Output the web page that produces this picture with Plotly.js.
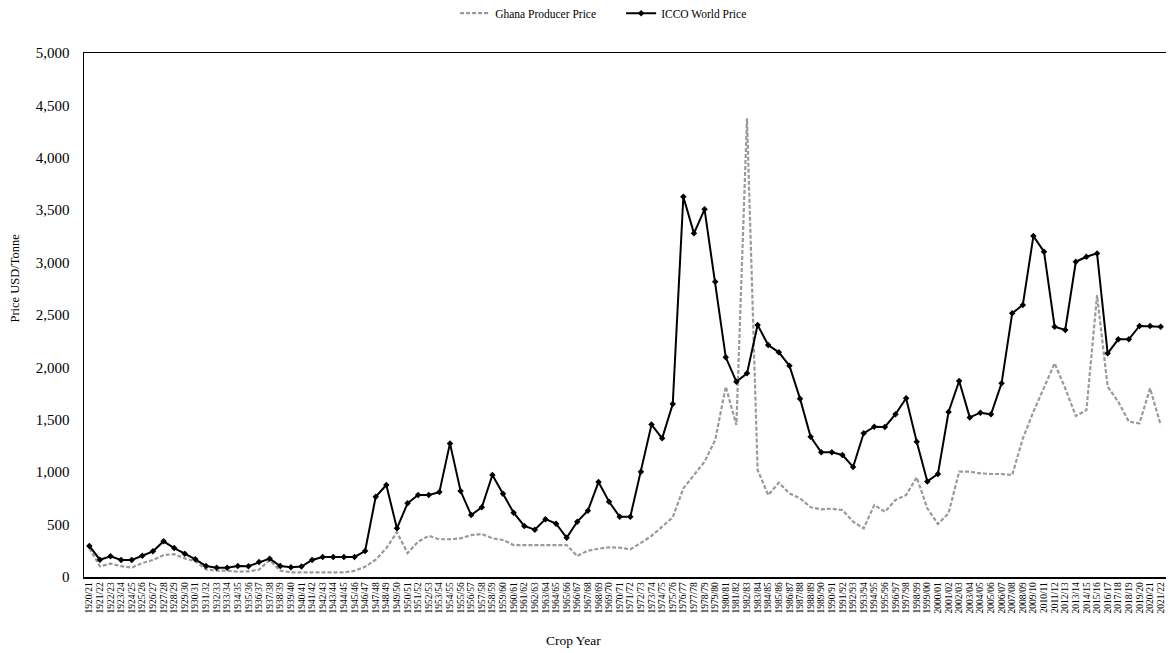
<!DOCTYPE html>
<html>
<head>
<meta charset="utf-8">
<script src="https://cdn.plot.ly/plotly-3.0.1.min.js"></script>
<style>
  html, body { margin: 0; padding: 0; background: #fff; }
  #chart { width: 1176px; height: 653px; }
</style>
</head>
<body>
<div id="chart"></div>
<script>
// Crop years on the category axis
const cropYears = [
  "1920/21","1921/22","1922/23","1923/24","1924/25","1925/26","1926/27","1927/28","1928/29","1929/30",
  "1930/31","1931/32","1932/33","1933/34","1934/35","1935/36","1936/37","1937/38","1938/39","1939/40",
  "1940/41","1941/42","1942/43","1943/44","1944/45","1945/46","1946/47","1947/48","1948/49","1949/50",
  "1950/51","1951/52","1952/53","1953/54","1954/55","1955/56","1956/57","1957/58","1958/59","1959/60",
  "1960/61","1961/62","1962/63","1963/64","1964/65","1965/66","1966/67","1967/68","1968/69","1969/70",
  "1970/71","1971/72","1972/73","1973/74","1974/75","1975/76","1976/77","1977/78","1978/79","1979/80",
  "1980/81","1981/82","1982/83","1983/84","1984/85","1985/86","1986/87","1987/88","1988/89","1989/90",
  "1990/91","1991/92","1992/93","1993/94","1994/95","1995/96","1996/97","1997/98","1998/99","1999/00",
  "2000/01","2001/02","2002/03","2003/04","2004/05","2005/06","2006/07","2007/08","2008/09","2009/10",
  "2010/11","2011/12","2012/13","2013/14","2014/15","2015/16","2016/17","2017/18","2018/19","2019/20",
  "2020/21","2021/22"
];

// Ghana producer price, USD per tonne
const ghanaProducerPrice = [
  275, 102, 127, 103, 90, 133, 162, 210, 218, 178,
  150, 73, 60, 60, 51, 54, 70, 160, 60, 45,
  45, 45, 45, 45, 45, 58, 98, 165, 275, 428,
  229, 337, 393, 360, 360, 369, 400, 410, 369, 353,
  305, 305, 305, 305, 305, 305, 200, 251, 270, 283,
  280, 264, 325, 392, 480, 569, 846, 973, 1100, 1307,
  1816, 1450, 4376, 1021, 782, 900, 798, 751, 665, 646,
  652, 639, 528, 464, 687, 623, 735, 782, 951, 655,
  506, 608, 1005, 1005, 989, 983, 983, 973, 1320, 1577,
  1816, 2039, 1800, 1536, 1593, 2690, 1816, 1672, 1482, 1466,
  1800, 1450
];

// ICCO world price, USD per tonne
const iccoWorldPrice = [
  296, 165, 198, 162, 162, 202, 245, 340, 276, 222,
  169, 105, 89, 89, 106, 103, 142, 175, 105, 94,
  100, 162, 191, 191, 191, 191, 248, 766, 878, 464,
  703, 782, 782, 810, 1275, 820, 591, 665, 973, 795,
  614, 487, 452, 552, 509, 374, 528, 632, 906, 718,
  575, 575, 1005, 1454, 1323, 1650, 3628, 3279, 3508, 2817,
  2096, 1863, 1943, 2404, 2213, 2144, 2016, 1702, 1338, 1190,
  1190, 1164, 1050, 1371, 1434, 1432, 1553, 1705, 1291, 912,
  983, 1574, 1870, 1523, 1568, 1552, 1848, 2516, 2595, 3253,
  3104, 2388, 2357, 3008, 3056, 3088, 2134, 2268, 2268, 2395,
  2395, 2389
];

const serif = '"Liberation Serif", "Times New Roman", serif';

const traces = [
  {
    type: 'scatter',
    mode: 'lines',
    name: 'Ghana Producer Price',
    x: cropYears,
    y: ghanaProducerPrice,
    line: { color: '#9a9a9a', width: 2.2, dash: '4px,2px' }
  },
  {
    type: 'scatter',
    mode: 'lines+markers',
    name: 'ICCO World Price',
    x: cropYears,
    y: iccoWorldPrice,
    line: { color: '#000000', width: 2 },
    marker: { symbol: 'diamond', size: 5, color: '#000000' }
  }
];

const layout = {
  width: 1176,
  height: 653,
  paper_bgcolor: '#ffffff',
  plot_bgcolor: '#ffffff',
  margin: { l: 84, r: 10, t: 53, b: 76, autoexpand: false },
  font: { family: serif, color: '#000000' },
  showlegend: true,
  legend: {
    orientation: 'h',
    x: 0.343,
    xanchor: 'left',
    y: 1.076,
    yanchor: 'middle',
    font: { family: serif, size: 11.5, color: '#000' },
    itemwidth: 30,
    entrywidth: 121,
    entrywidthmode: 'pixels',
    bgcolor: 'rgba(0,0,0,0)'
  },
  xaxis: {
    type: 'category',
    range: [-0.5, cropYears.length - 0.5],
    tickmode: 'array',
    tickvals: cropYears,
    ticktext: cropYears,
    showgrid: false,
    zeroline: false,
    showline: true,
    mirror: true,
    linecolor: '#000',
    linewidth: 1.5,
    ticks: '',
    tickangle: -90,
    tickfont: { family: serif, size: 9.5, color: '#000' },
    automargin: false
  },
  yaxis: {
    range: [0, 5000],
    dtick: 500,
    tickformat: ',d',
    showgrid: false,
    zeroline: false,
    showline: true,
    linecolor: '#000',
    linewidth: 1.5,
    ticks: '',
    ticklabelstandoff: 10,
    tickfont: { family: serif, size: 15, color: '#000' },
    automargin: false
  },
  annotations: [
    {
      text: 'Price USD/Tonne',
      xref: 'paper', yref: 'paper',
      x: -0.064, y: 0.571,
      xanchor: 'center', yanchor: 'middle',
      textangle: -90,
      showarrow: false,
      font: { family: serif, size: 12.5, color: '#000' }
    },
    {
      text: 'Crop Year',
      xref: 'paper', yref: 'paper',
      x: 0.452, y: -0.122,
      xanchor: 'center', yanchor: 'middle',
      showarrow: false,
      font: { family: serif, size: 13.5, color: '#000' }
    }
  ]
};

Plotly.newPlot('chart', traces, layout, { staticPlot: true, displayModeBar: false });
</script>
</body>
</html>
